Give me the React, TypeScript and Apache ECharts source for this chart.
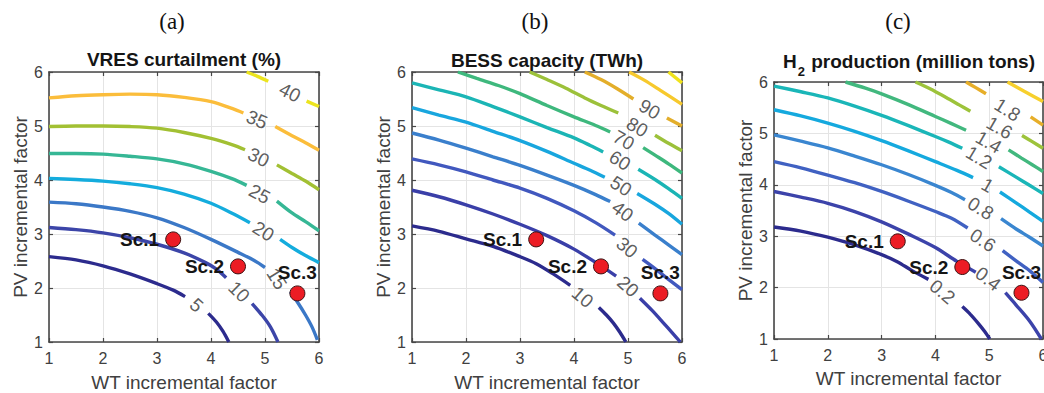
import React, { useEffect, useRef } from "react";
import * as echarts from "echarts";

type Pt = [number, number];

// ---------- shared ----------
const factorTicks = [1, 2, 3, 4, 5, 6];
const scenarioNames = ["Sc.1", "Sc.2", "Sc.3"];
const scenarioWT = [3.3, 4.5, 5.6];
const scenarioPV = [2.9, 2.4, 1.9];

// ---------- panel (a): VRES curtailment (%) ----------
const vresLevels = ["5", "10", "15", "20", "25", "30", "35", "40"];
const vresColors = ["#2c2b8d", "#3c45a8", "#3b78c7", "#14acdd", "#36b795", "#a2c033", "#fbbd3b", "#ece41e"];
const vresBefore: Pt[][] = [
  [[1, 2.58], [1.5, 2.52], [2, 2.41], [2.5, 2.26], [3, 2.08], [3.3, 1.96], [3.52, 1.84]],
  [[1, 3.12], [1.5, 3.08], [2, 3.02], [2.5, 2.93], [3, 2.81], [3.5, 2.65], [3.9, 2.47], [4.1, 2.35], [4.28, 2.19]],
  [[1, 3.59], [1.5, 3.56], [2, 3.5], [2.5, 3.42], [3, 3.3], [3.5, 3.12], [4, 2.9], [4.5, 2.66], [4.8, 2.51], [5.0, 2.38]],
  [[1, 4.03], [1.5, 4.01], [2, 3.98], [2.5, 3.93], [3, 3.86], [3.5, 3.74], [4, 3.57], [4.4, 3.38], [4.72, 3.21]],
  [[1, 4.49], [1.5, 4.49], [2, 4.48], [2.5, 4.44], [3, 4.39], [3.5, 4.3], [4, 4.16], [4.4, 4.02], [4.66, 3.9]],
  [[1, 4.99], [1.5, 5.0], [2, 5.0], [2.5, 4.99], [3, 4.96], [3.5, 4.88], [4, 4.77], [4.4, 4.65], [4.63, 4.56]],
  [[1, 5.52], [1.5, 5.56], [2, 5.58], [2.5, 5.59], [3, 5.58], [3.5, 5.53], [4, 5.45], [4.4, 5.32], [4.6, 5.24]],
  [[4.66, 6.0], [4.86, 5.92], [5.06, 5.83]],
];
const vresAfter: Pt[][] = [
  [[3.95, 1.53], [4.1, 1.37], [4.22, 1.2], [4.33, 1.0]],
  [[4.76, 1.71], [4.95, 1.49], [5.1, 1.28], [5.24, 1.0]],
  [[5.47, 1.93], [5.6, 1.74], [5.75, 1.5], [5.87, 1.28], [5.97, 1.04]],
  [[5.28, 2.9], [5.5, 2.75], [5.75, 2.6], [6, 2.47]],
  [[5.22, 3.61], [5.5, 3.39], [5.75, 3.23], [6, 3.06]],
  [[5.22, 4.28], [5.5, 4.12], [5.75, 3.98], [6, 3.82]],
  [[5.19, 4.99], [5.5, 4.82], [5.75, 4.69], [6, 4.55]],
  [[5.77, 5.46], [6, 5.36]],
];
const vresLabelAt: Pt[] = [[3.73, 1.68], [4.52, 1.93], [5.22, 2.17], [4.97, 3.05], [4.9, 3.74], [4.88, 4.42], [4.85, 5.12], [5.46, 5.62]];
const vresLabelAngle = [-42, -45, -58, -32, -28, -26, -23, -27];

// ---------- panel (b): BESS capacity (TWh) ----------
const bessLevels = ["10", "20", "30", "40", "50", "60", "70", "80", "90", "100", "110"];
const bessColors = ["#2c2b8d", "#3a3fa8", "#4158be", "#3a7fcc", "#18a6de", "#1bb5b5", "#3eb87d", "#9cc13a", "#e3ae2a", "#f7c92d", "#f0e31c"];
const bessBefore: Pt[][] = [
  [[1, 3.15], [1.5, 3.05], [2, 2.91], [2.5, 2.77], [3, 2.58], [3.3, 2.45], [3.6, 2.27], [3.93, 2.05]],
  [[1, 3.81], [1.5, 3.69], [2, 3.54], [2.5, 3.37], [3, 3.18], [3.5, 2.97], [4, 2.72], [4.5, 2.41], [4.78, 2.22]],
  [[1, 4.39], [1.5, 4.28], [2, 4.15], [2.5, 4.0], [3, 3.85], [3.5, 3.66], [4, 3.43], [4.4, 3.21], [4.76, 2.98]],
  [[1, 4.87], [1.5, 4.74], [2, 4.59], [2.5, 4.43], [3, 4.27], [3.5, 4.09], [4, 3.9], [4.4, 3.73], [4.67, 3.6]],
  [[1, 5.34], [1.5, 5.2], [2, 5.07], [2.5, 4.9], [3, 4.73], [3.5, 4.53], [4, 4.31], [4.3, 4.18], [4.57, 4.05]],
  [[1, 5.8], [1.5, 5.67], [2, 5.54], [2.5, 5.36], [3, 5.17], [3.5, 4.97], [4, 4.78], [4.3, 4.64], [4.54, 4.52]],
  [[1.85, 6], [2.2, 5.88], [2.6, 5.75], [3, 5.6], [3.5, 5.38], [4, 5.17], [4.4, 5.01], [4.67, 4.89]],
  [[3.18, 6], [3.5, 5.86], [3.85, 5.7], [4.2, 5.52], [4.5, 5.38], [4.82, 5.24]],
  [[4.2, 6], [4.5, 5.86], [4.8, 5.69], [5.1, 5.5]],
  [[5.02, 6], [5.3, 5.85], [5.6, 5.66], [6, 5.4]],
  [[5.75, 6], [6, 5.8]],
];
const bessAfter: Pt[][] = [
  [[4.46, 1.64], [4.6, 1.5], [4.73, 1.35], [4.85, 1.18], [4.96, 1.0]],
  [[5.22, 1.81], [5.45, 1.58], [5.65, 1.36], [5.82, 1.17], [5.97, 1.0]],
  [[5.27, 2.53], [5.5, 2.36], [5.75, 2.16], [6, 1.97]],
  [[5.2, 3.2], [5.5, 2.98], [5.75, 2.8], [6, 2.62]],
  [[5.17, 3.75], [5.5, 3.55], [5.75, 3.38], [6, 3.18]],
  [[5.19, 4.2], [5.5, 4.01], [5.75, 3.84], [6, 3.66]],
  [[5.28, 4.6], [5.5, 4.46], [5.75, 4.3], [6, 4.13]],
  [[5.5, 4.83], [5.75, 4.68], [6, 4.54]],
  [[5.72, 5.15], [6, 5.0]],
  [],
  [],
];
const bessLabelAt: Pt[] = [[4.16, 1.83], [5.0, 2.03], [4.98, 2.75], [4.9, 3.42], [4.87, 3.89], [4.85, 4.36], [4.92, 4.74], [5.17, 4.98], [5.4, 5.31]];
const bessLabelAngle = [-40, -42, -40, -37, -33, -32, -30, -30, -30];

// ---------- panel (c): H2 production (million tons) ----------
const h2Levels = ["0.2", "0.4", "0.6", "0.8", "1", "1.2", "1.4", "1.6", "1.8", "2"];
const h2Colors = ["#2c2b8d", "#3c43aa", "#4061c2", "#3a86d0", "#15a9de", "#1ab6b8", "#42b87e", "#9dc33b", "#e7ae29", "#f7d02d"];
const h2Before: Pt[][] = [
  [[1, 3.18], [1.5, 3.1], [2, 2.98], [2.5, 2.83], [3, 2.64], [3.3, 2.5], [3.55, 2.34], [3.87, 2.16]],
  [[1, 3.87], [1.5, 3.76], [2, 3.64], [2.5, 3.48], [3, 3.28], [3.5, 3.04], [4, 2.78], [4.4, 2.51], [4.75, 2.3]],
  [[1, 4.45], [1.5, 4.33], [2, 4.19], [2.5, 4.04], [3, 3.87], [3.5, 3.68], [4, 3.48], [4.3, 3.35], [4.6, 3.16]],
  [[1, 4.97], [1.5, 4.85], [2, 4.72], [2.5, 4.56], [3, 4.39], [3.5, 4.2], [4, 3.99], [4.3, 3.85], [4.55, 3.71]],
  [[1, 5.46], [1.5, 5.34], [2, 5.2], [2.5, 5.04], [3, 4.86], [3.5, 4.66], [4, 4.45], [4.4, 4.28], [4.7, 4.14]],
  [[1, 5.92], [1.5, 5.81], [2, 5.69], [2.5, 5.53], [3, 5.35], [3.5, 5.15], [4, 4.94], [4.25, 4.83], [4.5, 4.71]],
  [[2.33, 6], [2.7, 5.88], [3, 5.77], [3.5, 5.56], [4, 5.33], [4.3, 5.19], [4.57, 5.06]],
  [[3.63, 6], [3.9, 5.87], [4.2, 5.7], [4.45, 5.55], [4.65, 5.43]],
  [[4.57, 6], [4.75, 5.89], [4.94, 5.77]],
  [[5.34, 6], [5.65, 5.82], [6, 5.62]],
];
const h2After: Pt[][] = [
  [[4.5, 1.63], [4.65, 1.48], [4.8, 1.3], [4.92, 1.14], [5.01, 1.0]],
  [[5.3, 1.9], [5.5, 1.66], [5.75, 1.35], [5.97, 1.0]],
  [[5.25, 2.72], [5.5, 2.52], [5.75, 2.33], [6, 2.1]],
  [[5.22, 3.34], [5.5, 3.14], [5.75, 2.98], [6, 2.81]],
  [[5.2, 3.86], [5.5, 3.65], [5.75, 3.47], [6, 3.29]],
  [[5.18, 4.35], [5.5, 4.15], [5.75, 3.99], [6, 3.83]],
  [[5.36, 4.68], [5.6, 4.52], [5.8, 4.39], [6, 4.26]],
  [[5.61, 4.96], [5.8, 4.84], [6, 4.71]],
  [[5.77, 5.32], [6, 5.16]],
  [],
];
const h2LabelAt: Pt[] = [[4.13, 1.92], [4.98, 2.17], [4.88, 2.92], [4.84, 3.54], [4.97, 3.99], [4.81, 4.53], [4.99, 4.83], [5.19, 5.11], [5.34, 5.46]];
const h2LabelAngle = [-40, -37, -33, -32, -30, -31, -30, -30, -32];

// ---------- layout ----------
const FONT = '"Liberation Sans", Arial, Helvetica, sans-serif';
const SERIF = '"Liberation Serif", "Times New Roman", serif';
const AXIS_COLOR = "#474747";
const TEXT_GREY = "#404040";

const grids = [
  { left: 49, top: 72, width: 270, height: 270, nameGapX: 31, nameGapY: 13 },
  { left: 412, top: 72, width: 270, height: 270, nameGapX: 31, nameGapY: 17 },
  { left: 774, top: 82, width: 269, height: 257, nameGapX: 30, nameGapY: 18 },
];

function buildAxes() {
  const xAxis: any[] = [];
  const yAxis: any[] = [];
  grids.forEach((g, i) => {
    const common = {
      gridIndex: i,
      type: "value",
      min: factorTicks[0],
      max: factorTicks[factorTicks.length - 1],
      interval: 1,
      axisLine: { show: true, onZero: false, lineStyle: { color: AXIS_COLOR, width: 1.6 } },
      axisTick: { show: true, inside: true, length: 4, lineStyle: { color: AXIS_COLOR, width: 1.2 } },
    };
    xAxis.push({
      ...common,
      position: "bottom",
      name: "WT incremental factor",
      nameLocation: "middle",
      nameGap: g.nameGapX,
      nameTextStyle: { fontFamily: FONT, fontSize: 19, color: TEXT_GREY },
      axisLabel: { show: true, margin: 8, fontFamily: FONT, fontSize: 16, color: TEXT_GREY },
      splitLine: { show: true, lineStyle: { color: "#e4e4e4", width: 1 } },
    });
    xAxis.push({ ...common, position: "top", axisLabel: { show: false }, splitLine: { show: false } });
    yAxis.push({
      ...common,
      position: "left",
      name: "PV incremental factor",
      nameLocation: "middle",
      nameGap: g.nameGapY,
      nameTextStyle: { fontFamily: FONT, fontSize: 19, color: TEXT_GREY },
      axisLabel: { show: true, margin: 6, fontFamily: FONT, fontSize: 16, color: TEXT_GREY },
      splitLine: { show: true, lineStyle: { color: "#e4e4e4", width: 1 } },
    });
    yAxis.push({ ...common, position: "right", axisLabel: { show: false }, splitLine: { show: false } });
  });
  return { xAxis, yAxis };
}

function contourSeries(
  panel: number,
  before: Pt[][],
  after: Pt[][],
  levels: string[],
  colors: string[],
  labelAt: Pt[],
  labelAngle: number[]
) {
  const out: any[] = [];
  before.forEach((seg, i) => {
    [seg, after[i]].forEach((part) => {
      if (!part || part.length === 0) return;
      out.push({
        type: "line",
        xAxisIndex: panel * 2,
        yAxisIndex: panel * 2,
        data: part,
        showSymbol: false,
        symbol: "none",
        smooth: 0.3,
        silent: true,
        lineStyle: { color: colors[i], width: 3.4, cap: "butt" },
        z: 2,
      });
    });
  });
  out.push({
    type: "scatter",
    xAxisIndex: panel * 2,
    yAxisIndex: panel * 2,
    symbolSize: 0,
    silent: true,
    z: 3,
    data: labelAt.map((p, i) => ({
      value: p,
      label: {
        show: true,
        position: "inside",
        formatter: levels[i],
        rotate: labelAngle[i],
        fontFamily: FONT,
        fontSize: 19,
        color: "#333333",
      },
    })),
  });
  return out;
}

function scenarioSeries(panel: number) {
  return {
    type: "scatter",
    xAxisIndex: panel * 2,
    yAxisIndex: panel * 2,
    symbol: "circle",
    symbolSize: 15,
    silent: true,
    z: 5,
    itemStyle: { color: "#ec1c24", borderColor: "#3a1212", borderWidth: 1, opacity: 1 },
    data: scenarioNames.map((n, i) => ({
      value: [scenarioWT[i], scenarioPV[i]],
      label: {
        show: true,
        formatter: n,
        position: i === 2 ? "top" : "left",
        distance: i === 2 ? 3 : 6,
        fontFamily: FONT,
        fontSize: 19,
        fontWeight: "bold",
        color: "#151515",
      },
    })),
  };
}

export default function App() {
  const ref = useRef<HTMLDivElement>(null);
  useEffect(() => {
    if (!ref.current) return;
    const chart = echarts.init(ref.current, null, { renderer: "svg" });
    const { xAxis, yAxis } = buildAxes();
    const titleStyle = { fontFamily: FONT, fontSize: 19, fontWeight: "bold", fill: "#151515" };
    const capStyle = { fontFamily: SERIF, fontSize: 23, fill: "#111", align: "center", verticalAlign: "middle" };
    const option: any = {
      animation: false,
      backgroundColor: "#ffffff",
      grid: grids.map((g) => ({
        left: g.left,
        top: g.top,
        width: g.width,
        height: g.height,
        containLabel: false,
        outerBoundsMode: "none",
      })),
      xAxis,
      yAxis,
      series: [
        ...contourSeries(0, vresBefore, vresAfter, vresLevels, vresColors, vresLabelAt, vresLabelAngle),
        scenarioSeries(0),
        ...contourSeries(1, bessBefore, bessAfter, bessLevels, bessColors, bessLabelAt, bessLabelAngle),
        scenarioSeries(1),
        ...contourSeries(2, h2Before, h2After, h2Levels, h2Colors, h2LabelAt, h2LabelAngle),
        scenarioSeries(2),
      ],
      graphic: [
        { type: "text", x: 172, y: 21, style: { ...capStyle, text: "(a)" } },
        { type: "text", x: 535, y: 21, style: { ...capStyle, text: "(b)" } },
        { type: "text", x: 898, y: 21, style: { ...capStyle, text: "(c)" } },
        { type: "text", x: 184, y: 59, style: { ...titleStyle, text: "VRES curtailment (%)", align: "center", verticalAlign: "middle" } },
        { type: "text", x: 547, y: 60, style: { ...titleStyle, text: "BESS capacity (TWh)", align: "center", verticalAlign: "middle" } },
        {
          type: "text",
          x: 909,
          y: 61,
          style: {
            text: "{m|H}{s|2}{m| production (million tons)}",
            align: "center",
            verticalAlign: "middle",
            rich: {
              m: { fontFamily: FONT, fontSize: 19, fontWeight: "bold", fill: "#151515" },
              s: { fontFamily: FONT, fontSize: 13, fontWeight: "bold", fill: "#151515", padding: [20, 1, 0, 1] },
            },
          },
        },
      ],
    };
    chart.setOption(option);
    return () => chart.dispose();
  }, []);
  return <div ref={ref} style={{ position: "absolute", left: 0, top: 0, width: 1044, height: 393, background: "#fff" }} />;
}
